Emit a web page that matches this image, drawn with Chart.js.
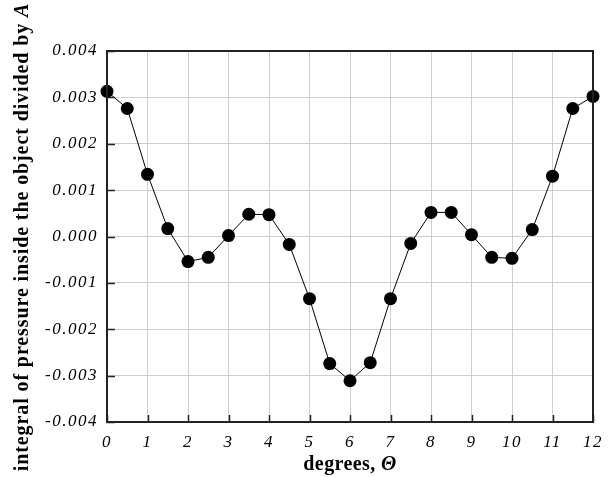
<!DOCTYPE html>
<html>
<head>
<meta charset="utf-8">
<script src="https://cdn.jsdelivr.net/npm/chart.js@4/dist/chart.umd.min.js"></script>
<style>
  html, body { margin: 0; padding: 0; background: #fff; }
  #wrap { width: 613px; height: 477px; }
</style>
</head>
<body>
<div id="wrap"><canvas id="myChart"></canvas></div>
<script>
// angle in degrees and the pressure integral
const degrees = [0, 0.5, 1, 1.5, 2, 2.5, 3, 3.5, 4, 4.5, 5, 5.5, 6,
                 6.5, 7, 7.5, 8, 8.5, 9, 9.5, 10, 10.5, 11, 11.5, 12]
const pressure = [0.00313, 0.00276, 0.00134, 0.00017, -0.00054, -0.00045, 0.00002,
                  0.00048, 0.00047, -0.00017, -0.00134, -0.00274, -0.00311,
                  -0.00272, -0.00134, -0.00015, 0.00052, 0.00052, 0.00004,
                  -0.00045, -0.00047, 0.00015, 0.0013, 0.00276, 0.00302]
const xTicks = [0, 1, 2, 3, 4, 5, 6, 7, 8, 9, 10, 11, 12]
const yTicks = [-0.004, -0.003, -0.002, -0.001, 0, 0.001, 0.002, 0.003, 0.004]

const SERIF = '"Liberation Serif", "Times New Roman", serif'
const axisColor = '#222'

// frame, inner tick marks and the mixed-style axis titles
const frame = {
  id: 'frame',
  beforeLayout(chart) { chart.ctx.letterSpacing = '1.5px' },
  beforeDraw(chart) { chart.ctx.letterSpacing = '1.5px' },
  afterDraw(chart) {
    const ctx = chart.ctx
    const {left, right, top, bottom} = chart.chartArea
    const xs = chart.scales.x, ys = chart.scales.y
    ctx.save()
    ctx.strokeStyle = axisColor
    ctx.lineWidth = 1.5
    ctx.beginPath()
    yTicks.forEach(v => {
      const y = Math.round(ys.getPixelForValue(v)) + 0.5
      ctx.moveTo(left, y); ctx.lineTo(left + 8, y)
    })
    xTicks.forEach(v => {
      const x = Math.round(xs.getPixelForValue(v)) + 0.5
      ctx.moveTo(x, bottom); ctx.lineTo(x, bottom - 7)
    })
    ctx.stroke()
    ctx.lineWidth = 2
    ctx.strokeRect(left, top, right - left, bottom - top)

    ctx.fillStyle = '#000'
    ctx.textBaseline = 'alphabetic'
    ctx.textAlign = 'left'
    const bold = 'bold 20px ' + SERIF
    const boldIt = 'italic bold 20px ' + SERIF

    // x title
    ctx.letterSpacing = '0.4px'
    ctx.font = bold
    const p1 = 'degrees, '
    const w1 = ctx.measureText(p1).width
    ctx.font = boldIt
    const w2 = ctx.measureText('\u0398').width
    let x0 = (left + right) / 2 - (w1 + w2) / 2
    ctx.font = bold
    ctx.fillText(p1, x0, 470)
    ctx.font = boldIt
    ctx.fillText('\u0398', x0 + w1, 470)

    // y title
    ctx.translate(28, 237)
    ctx.rotate(-Math.PI / 2)
    ctx.letterSpacing = '0.9px'
    ctx.font = bold
    const q1 = 'integral of pressure inside the object divided by '
    const v1 = ctx.measureText(q1).width
    ctx.font = boldIt
    const v2 = ctx.measureText('A').width
    x0 = -(v1 + v2) / 2
    ctx.font = bold
    ctx.fillText(q1, x0, 0)
    ctx.font = boldIt
    ctx.fillText('A', x0 + v1, 0)
    ctx.restore()
  }
}

new Chart('myChart', {
  type: 'line',
  data: {
    datasets: [{
      data: degrees.map((d, i) => ({x: d, y: pressure[i]})),
      borderColor: '#000',
      borderWidth: 1,
      backgroundColor: '#000',
      pointRadius: 6.5,
      pointBackgroundColor: '#000',
      pointBorderWidth: 0,
      tension: 0
    }]
  },
  options: {
    responsive: true,
    maintainAspectRatio: false,
    animation: false,
    clip: false,
    layout: { padding: { top: 51, right: 11, left: 0, bottom: 0 } },
    plugins: { legend: { display: false }, tooltip: { enabled: false } },
    scales: {
      x: {
        type: 'linear', min: 0, max: 12,
        afterBuildTicks: s => { s.ticks = xTicks.map(v => ({value: v})) },
        afterFit: s => { s.height = 55 },
        grid: { color: '#cfcfcf', lineWidth: 1, drawTicks: false },
        border: { display: false },
        ticks: { color: '#000', padding: 10, maxRotation: 0,
                 font: { family: SERIF, size: 17, style: 'italic' } }
      },
      y: {
        min: -0.004, max: 0.004,
        afterBuildTicks: s => { s.ticks = yTicks.map(v => ({value: v})) },
        afterFit: s => { s.width = 107 },
        grid: { color: '#cfcfcf', lineWidth: 1, drawTicks: false },
        border: { display: false },
        ticks: { color: '#000', padding: 9,
                 callback: v => v.toFixed(3),
                 font: { family: SERIF, size: 17, style: 'italic' } }
      }
    }
  },
  plugins: [frame]
})
</script>
</body>
</html>
